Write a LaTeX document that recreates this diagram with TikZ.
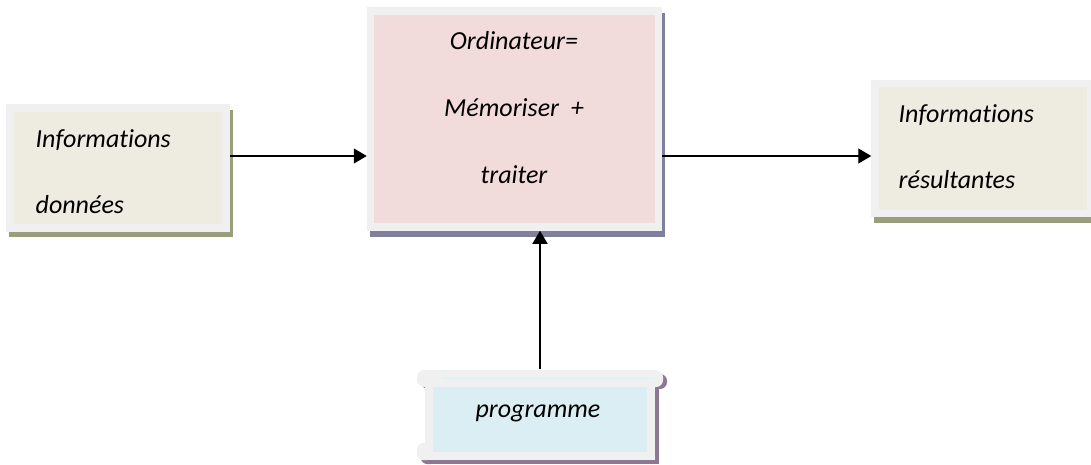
\documentclass[tikz,border=0pt]{standalone}
\usepackage{fontspec}
\setmainfont[Ligatures={NoCommon}]{Carlito}
\usetikzlibrary{arrows.meta,shadows}
\definecolor{framegray}{HTML}{F0F0F0}
\definecolor{infofill}{HTML}{EEECE1}
\definecolor{ordifill}{HTML}{F2DCDB}
\definecolor{progfill}{HTML}{DBEEF3}
\definecolor{olivesh}{HTML}{9A9E7C}
\definecolor{bluesh}{HTML}{7F809C}
\definecolor{mauvesh}{HTML}{8C7893}
\begin{document}
\begin{tikzpicture}[x=1pt,y=-1pt,>={Triangle[length=13pt,width=15pt]},line width=1.3pt]

	% Define node styles
	\tikzstyle{box} = [rectangle, draw=framegray, line width=7.5pt, inner sep=0pt]
	\tikzstyle{info box} = [box, fill=infofill, general shadow={draw=olivesh, fill=olivesh, shadow xshift=3pt, shadow yshift=-5.5pt}]
	\tikzstyle{ordi box} = [box, fill=ordifill, general shadow={draw=bluesh, fill=bluesh, shadow xshift=3pt, shadow yshift=-6pt}]
	\tikzstyle{prog box} = [box, fill=progfill]
	\tikzstyle{label} = [font=\fontsize{26}{30}\selectfont\itshape, inner sep=0pt]

	\useasboundingbox (0,0) rectangle (1091,465);

	% Place boxes
	\node[info box, minimum width=216pt, minimum height=120pt] (donnees) at (118,168) {};
	\node[ordi box, minimum width=288pt, minimum height=216pt] (ordi) at (514.5,119) {};
	\node[info box, minimum width=216pt, minimum height=130pt] (resultats) at (983,148.5) {};

	% Scroll for the program
	\fill[mauvesh, rounded corners=7pt] (421,374) rectangle (667,389);
	\fill[mauvesh] (429,382) rectangle (659,464);
	\fill[mauvesh, rounded corners=6pt] (421,447) rectangle (437,464);
	\node[prog box, minimum width=222pt, minimum height=73pt] (prog) at (540,419.5) {};
	\node[fill=framegray, rounded corners=7pt, minimum width=246pt, minimum height=17pt, inner sep=0pt] (progroll) at (540,378.5) {};
	\fill[framegray, rounded corners=6pt] (417,443) rectangle (433,460);
	\draw[progfill!80!framegray, line width=1pt] ([xshift=26pt]progroll.west) -- ([xshift=-10pt]progroll.east);

	% Texts
	\node[label, anchor=base west] (donnees-a) at (35,148) {Informations};
	\node[label, anchor=base west] (donnees-b) at (35,213) {données};
	\node[label, anchor=base] (ordi-a) at (514,50) {Ordinateur=};
	\node[label, anchor=base] (ordi-b) at (514,117) {Mémoriser\ \ +};
	\node[label, anchor=base] (ordi-c) at (514,183) {traiter};
	\node[label, anchor=base west] (resultats-a) at (898,123) {Informations};
	\node[label, anchor=base west] (resultats-b) at (898,188) {résultantes};
	\node[label, anchor=base] (prog-a) at (538,417) {programme};

	% Draw arrows
	\coordinate (lane) at (0,156);
	\foreach \source/\dest in {donnees/ordi, ordi/resultats}
	\draw[->] (\source.east |- lane) -- (\dest.west |- lane);
	\draw[->] (progroll.north) -- (progroll.north |- ordi.south);

\end{tikzpicture}
\end{document}
